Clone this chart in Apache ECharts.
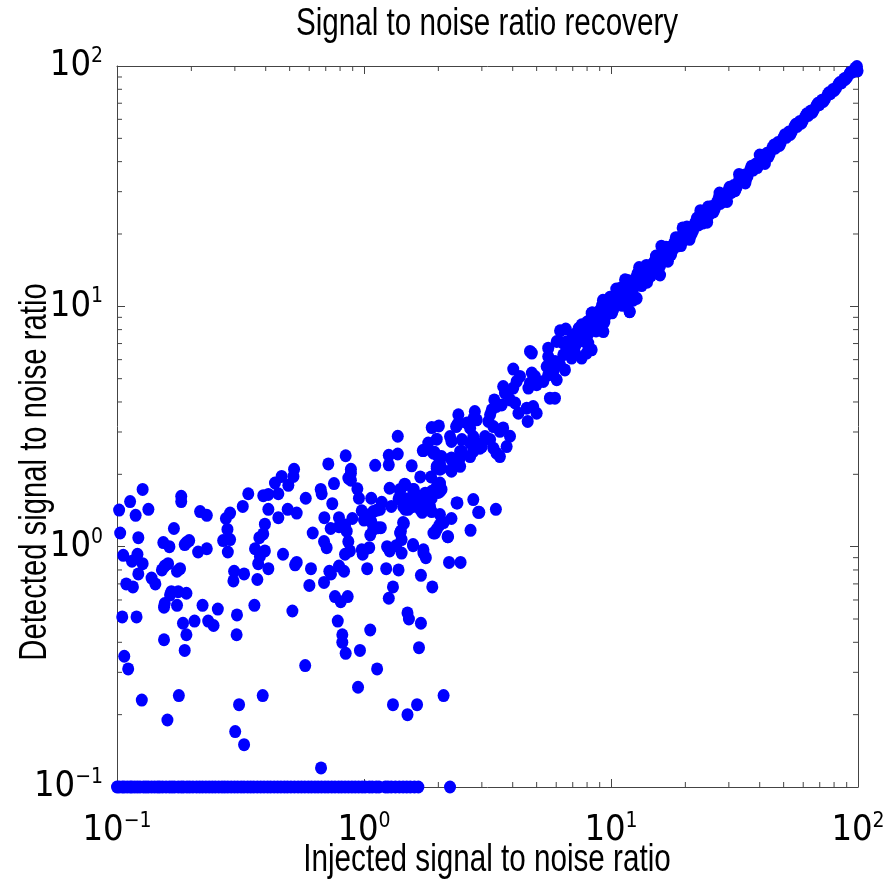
<!DOCTYPE html>
<html><head><meta charset="utf-8">
<script src="https://cdn.jsdelivr.net/npm/echarts@6/dist/echarts.min.js"></script>
<style>html,body{margin:0;padding:0;background:#fff}#c{width:890px;height:883px}</style>
</head><body><div id="c"></div>
<script>
const titleText = 'Signal to noise ratio recovery';
const xAxisName = 'Injected signal to noise ratio';
const yAxisName = 'Detected signal to noise ratio';
const axisMin = 0.1;
const axisMax = 100;
const minorDecades = [0.1, 1, 10];
const minorMultipliers = [2, 3, 4, 5, 6, 7, 8, 9];

// detections that fell to the floor value
const floorDetected = 0.1;
const floorInjected = [0.100,0.102,0.105,0.107,0.110,0.113,0.115,0.118,0.121,0.124,0.128,0.131,0.134,0.138,0.142,0.146,0.149,0.153,0.158,0.163,0.167,0.171,0.177,0.182,0.186,0.192,0.197,0.203,0.210,0.216,0.222,0.229,0.236,0.243,0.250,0.258,0.266,0.273,0.281,0.290,0.299,0.308,0.318,0.327,0.338,0.348,0.358,0.370,0.382,0.394,0.407,0.419,0.433,0.447,0.461,0.476,0.490,0.506,0.523,0.541,0.558,0.576,0.595,0.613,0.633,0.652,0.673,0.695,0.716,0.740,0.763,0.789,0.812,0.838,0.865,0.893,0.921,0.951,0.982,1.01,1.05,1.08,1.12,1.15,1.22,1.25,1.29,1.34,1.39,1.44,1.49,1.54,1.60,1.66,2.23];

// low-SNR noise cloud [injected, detected]
const cloudPoints = [[0.518,1.96],[0.464,1.96],[0.436,1.84],[0.494,1.80],[0.127,1.73],[0.340,1.66],[0.391,1.63],[0.410,1.65],[0.450,1.66],[0.113,1.54],[0.182,1.62],[0.182,1.54],[0.102,1.42],[0.134,1.43],[0.119,1.35],[0.217,1.40],[0.231,1.35],[0.287,1.38],[0.276,1.31],[0.323,1.47],[0.410,1.43],[0.491,1.43],[0.534,1.38],[0.450,1.32],[0.397,1.24],[0.103,1.14],[0.170,1.19],[0.280,1.18],[0.122,1.09],[0.391,1.13],[0.377,1.09],[0.154,1.04],[0.163,1.00],[0.188,1.02],[0.196,1.06],[0.191,1.04],[0.231,0.98],[0.213,0.95],[0.269,1.06],[0.287,1.07],[0.281,0.95],[0.362,0.98],[0.397,0.96],[0.379,0.91],[0.106,0.92],[0.121,0.93],[0.115,0.87],[0.127,0.85],[0.470,0.93],[0.534,0.86],[0.526,0.84],[0.373,0.85],[0.410,0.81],[0.152,0.80],[0.156,0.83],[0.161,0.85],[0.180,0.81],[0.175,0.79],[0.122,0.77],[0.138,0.74],[0.143,0.70],[0.298,0.79],[0.327,0.77],[0.296,0.72],[0.370,0.73],[0.109,0.70],[0.116,0.68],[0.166,0.65],[0.164,0.63],[0.177,0.65],[0.191,0.64],[0.156,0.58],[0.155,0.56],[0.175,0.57],[0.222,0.57],[0.256,0.55],[0.360,0.57],[0.105,0.51],[0.120,0.51],[0.513,0.54],[0.206,0.49],[0.185,0.48],[0.234,0.49],[0.246,0.47],[0.306,0.52],[0.191,0.43],[0.305,0.43],[0.155,0.41],
[0.188,0.37],[0.107,0.35],[0.111,0.31],[0.126,0.23],[0.178,0.24],[0.160,0.19],[0.312,0.22],[0.301,0.17],[0.327,0.15],[0.389,0.24],[0.578,0.32],[0.670,0.12],[0.783,0.49],[0.817,0.43],[0.817,0.40],[0.843,0.36],
[1.06,0.45],[0.963,0.37],[1.52,0.50],[1.70,0.48],[1.67,0.38],[1.13,0.31],[0.946,0.26],[1.31,0.22],[1.64,0.22],[1.50,0.20],[2.10,0.24],
[0.843,2.39],[0.717,2.21],[0.521,2.10],[0.885,2.10],[0.885,2.02],[0.864,1.93],[0.885,1.89],[1.11,2.18],[1.26,2.40],[1.26,2.19],[1.37,2.43],[1.56,2.17],[1.73,2.51],[1.93,2.47],[1.97,2.16],[2.03,2.10],[2.00,2.37],[2.26,2.34],[2.26,2.06],[2.45,2.16],[2.45,2.49],[2.77,2.49],[2.95,2.57],[0.756,1.83],[0.668,1.73],[0.674,1.66],[0.940,1.74],[0.954,1.59],[1.27,1.75],[1.40,1.73],[1.46,1.82],[1.69,1.95],[1.87,1.95],[1.59,1.73],[2.03,1.81],[2.06,1.73],[2.00,1.68],[1.88,1.70],[1.79,1.65],[0.581,1.59],[0.744,1.51],[1.07,1.59],[1.18,1.53],[1.16,1.43],[1.29,1.47],[1.38,1.58],[1.49,1.58],[1.54,1.50],[1.58,1.47],[1.47,1.43],[1.69,1.58],[1.71,1.47],[1.81,1.54],[1.88,1.59],[1.72,1.39],[2.39,1.52],[2.77,1.57],[0.691,1.32],[0.792,1.32],[0.792,1.21],[0.838,1.23],[0.897,1.31],[0.979,1.41],[1.01,1.36],[1.09,1.40],[1.13,1.42],[1.00,1.29],[1.07,1.27],[1.88,1.40],[2.03,1.36],[2.93,1.39],[3.42,1.43],[2.26,1.31],[2.10,1.26],[2.02,1.23],[1.94,1.14],[0.620,1.14],[0.733,1.19],[0.851,1.16],[0.864,1.05],[1.06,1.12],[1.14,1.20],[1.17,1.20],[1.09,1.18],[1.45,1.25],[1.41,1.16],[2.18,1.10],[2.70,1.17],[0.689,1.05],[0.706,0.99],[0.877,0.96],[0.838,0.93],[0.979,0.97],[1.05,0.99],[0.988,0.93],[1.24,1.00],[1.27,0.96],[1.35,1.01],[1.42,1.07],[1.42,0.94],[1.58,1.01],[1.74,0.94],[1.78,0.90],[0.610,0.81],[0.792,0.83],[0.830,0.79],[0.724,0.79],[0.735,0.77],[1.03,0.81],[1.23,0.81],[1.38,0.80],[1.70,0.76],[2.21,0.86],[2.46,0.86],[0.601,0.69],[0.689,0.71],[1.31,0.68],[1.89,0.68],[0.763,0.62],[0.805,0.59],[0.859,0.62],[1.26,0.61],[1.50,0.53],[1.37,2.88]];

// transition region where the detected value starts to follow the injected one
const bandLower = [[1.47,1.81],[1.40,1.70],[1.58,1.73],[1.69,1.62],[1.54,1.59],[1.44,1.47],[1.51,1.43],[1.77,1.67],[1.79,1.57],[1.74,1.52],[1.69,1.43],[1.85,1.47],[2.03,1.70],[2.37,1.52],[2.90,1.39],[1.97,1.18],[1.91,1.14],[2.19,1.10],[1.44,1.26],[1.40,1.14],[1.58,1.02],[1.74,0.97],[2.03,1.84],[1.97,1.78],[1.91,2.45],[2.06,2.37],[2.03,2.23],[1.97,2.12],[2.06,2.12],[1.97,2.80],[1.82,2.70],[1.74,2.51],[1.88,3.13],[2.01,3.18],[2.23,2.87],[2.26,2.74],[2.36,3.16],[2.41,3.27],[2.69,2.37],[2.49,2.49],[2.45,2.34],[2.26,2.30],[2.26,2.09],
[2.81,3.65],[2.77,3.40],[2.41,3.54],[2.39,3.22],[3.24,3.54],[3.55,3.02],[3.34,3.16],[3.19,3.32],[3.66,3.12],[3.90,2.88],[3.78,2.61],[3.44,2.45],[3.55,2.37],[2.86,3.37],[2.61,3.27],[2.69,3.11],[2.77,2.87],[2.86,2.70],[3.00,2.61],[2.69,2.70],[2.49,2.79],[3.09,2.87],[3.24,2.79],[3.34,2.57],[3.37,4.08],[3.29,3.71],[3.44,3.83],[3.61,3.89],[3.90,4.08],[4.09,3.96],[4.22,3.59],[4.56,3.77],[4.84,3.83],[5.00,3.59],[4.60,3.32],[3.66,4.64],[3.84,4.42],[3.72,4.36],[4.02,4.57],[4.63,4.57],[4.70,4.79],[5.66,4.15],[5.93,4.15],[4.28,5.11],[4.15,4.87],[4.78,5.28],[4.92,5.11],[5.00,4.72],[5.32,4.87],[5.57,5.19],[5.84,5.36],[4.02,5.48],[4.70,6.49],[4.78,6.39],[5.57,6.70],[5.57,6.18],[5.49,5.62],[5.93,5.90],[6.22,5.71],[6.51,5.44],[6.03,4.95],[6.22,7.91],[6.56,8.04],[7.61,8.38],[7.85,8.12],[8.35,9.37],[8.43,8.79],[9.31,7.85],[9.02,8.51],[11.9,9.51],[12.3,10.6],[10.2,9.67],[9.28,10.6],[7.03,7.49],[7.37,7.14],[8.09,7.03],[8.35,6.59],[7.97,6.39],[7.61,6.09],[7.15,6.39],[6.62,6.81],[6.41,7.03],[6.03,7.14],[6.41,6.29],[6.93,6.09]];

// high-SNR band, detected close to injected
const bandUpper = [[6.6,7.1],[6.8,6.5],[7.0,7.6],[7.2,6.9],[7.3,7.8],[7.5,7.2],[7.7,8.3],[7.8,7.4],[8.0,8.6],[8.1,7.7],[8.3,8.9],[8.5,8.2],[8.6,9.3],[8.8,8.5],[9.0,9.6],[9.1,8.8],[9.3,9.9],[9.5,9.1],[9.6,10.3],[9.8,9.6],[10.0,10.6],[10.2,9.8],[10.4,11.0],[10.6,10.3],[10.8,11.4],[11.0,10.6],[11.2,11.8],[11.4,11.0],[11.6,12.2],[11.9,11.5],[12.1,12.7],[12.4,12.0],[12.6,13.1],[12.9,12.4],[13.2,13.6],[13.5,12.9],[13.8,14.2],[14.1,13.5],[14.4,14.8],[14.7,14.1],[15.0,15.4],[15.4,14.9],[15.7,16.1],[16.1,15.5],[16.5,16.9],[16.9,16.2],[17.3,17.6],[17.7,17.0],[18.1,18.5],[18.5,17.8],[19.0,19.4],[19.5,18.7],[20.0,20.5],[20.5,19.8],[21.0,21.3],[21.5,20.7],[22.0,22.4],[22.6,21.8],[23.2,23.5],[23.8,22.9],[24.4,24.8],[25.0,24.1],[25.6,26.0],[26.3,25.4],[27.0,27.4],[27.7,26.8],[28.4,28.7],[29.1,28.2],[29.8,30.2],[30.6,29.7],[31.4,31.8],[32.2,31.2],[33.0,33.4],[33.9,33.0],[34.8,35.2],[35.7,34.8],[36.6,37.0],[37.6,36.9],[38.6,39.1],[39.6,38.8],[40.6,41.0],[41.7,40.9],[42.8,43.3],[43.9,43.1],[45.0,45.6],[46.2,45.5],[47.4,48.0],[48.6,47.8],[49.9,50.4],[51.2,50.5],[52.5,53.1],[53.9,53.2],[55.3,55.9],[56.7,56.0],[58.2,58.8],[59.7,59.1],[61.3,61.9],[62.9,62.3],[64.5,65.0],[66.2,65.6],[67.9,68.5],[69.7,69.0],[71.5,72.1],[73.4,72.8],[75.3,75.9],[77.3,76.7],[79.3,79.9],[81.4,80.8],[83.5,84.1],[85.7,85.1],[87.9,88.5],[90.2,89.6],[92.6,93.1],[95.0,94.4],[97.5,97.9],[99.0,99.5],[99.6,95.5],
[7.4,8.1],[7.9,7.1],[8.4,9.4],[8.7,7.9],[9.2,10.1],[9.4,8.6],[9.9,10.9],[10.1,9.4],[10.9,11.9],[11.1,10.1],[11.7,12.8],[12.2,11.2],[12.8,13.7],[13.3,12.2],[13.9,14.8],[14.5,13.4],[15.2,16.2],[15.8,14.7],[16.7,17.6],[17.5,16.4],[18.3,19.3],[19.2,17.9],[20.3,21.4],[21.2,20.0],[22.3,23.3],[23.5,22.2],[24.7,25.9],[26.0,24.7],[27.4,28.5],[28.8,27.4],[30.2,31.3],[31.8,30.3],[33.5,34.7],[35.2,33.8],[37.1,38.3],[39.1,37.8],[41.2,42.4],[43.4,42.0],[45.7,46.9],[48.1,46.7],[50.6,51.8],[53.2,51.9],[56.0,57.2],[59.0,57.8],[62.1,63.3],[65.3,64.1],[68.8,70.0],[72.4,71.2],[76.2,77.3],[80.2,79.1],[84.4,85.4],[88.8,87.9],[93.5,94.3],[98.0,97.1],
[10.5,11.8],[11.5,10.2],[13.0,14.5],[14.0,12.6],[16.0,17.8],[17.0,15.4],[19.5,21.2],[20.8,19.0],[23.0,25.0],[24.5,22.4],[27.5,29.6],[29.5,27.3],[33.0,35.4],[35.0,32.6],[40.0,42.6],[42.0,39.3],
[11.4,12.9],[11.9,9.5],[15.8,13.5],[12.7,10.8]];

const TICK_FONT = "'DejaVu Sans Condensed', 'Liberation Sans', sans-serif";
const TEXT_FONT = "'Liberation Sans', Arial, sans-serif";
const AXIS_COLOR = '#444';
const DOT = '#0000ff';

const minorTickValues = [];
minorDecades.forEach(d => minorMultipliers.forEach(m => minorTickValues.push(d * m)));

const pointData = []
  .concat(floorInjected.map(x => [x, floorDetected]))
  .concat(cloudPoints, bandLower, bandUpper);

function powLabel(v) {
  const e = Math.round(Math.log10(v));
  return '{b|10}{s|' + (e < 0 ? '\u2212' + (-e) : e) + '}';
}
const richLabel = {
  b: { fontSize: 36, fontFamily: TICK_FONT, color: '#000', lineHeight: 40 },
  s: { fontSize: 21, fontFamily: TICK_FONT, color: '#000', verticalAlign: 'top', lineHeight: 22 }
};

function mkAxis(pos, showLabel, isX) {
  return {
    type: 'log', logBase: 10, min: axisMin, max: axisMax, position: pos,
    axisLine: { show: true, onZero: false, lineStyle: { color: AXIS_COLOR, width: 1 } },
    axisTick: { show: true, inside: true, length: 8, lineStyle: { color: AXIS_COLOR } },
    splitLine: { show: false },
    minorTick: { show: false },
    axisLabel: showLabel ? { show: true, formatter: powLabel, rich: richLabel, margin: isX ? 24 : 14 } : { show: false }
  };
}

const chart = echarts.init(document.getElementById('c'), null, { renderer: 'canvas' });
chart.setOption({
  animation: false,
  backgroundColor: '#fff',
  grid: { left: 117, right: 32, top: 66, bottom: 96, containLabel: false, outerBoundsMode: 'none' },
  xAxis: [mkAxis('bottom', true, true), mkAxis('top', false, true)],
  yAxis: [mkAxis('left', true, false), mkAxis('right', false, false)],
  graphic: [
    { type: 'text', x: 487, y: 25, scaleX: 0.78, silent: true,
      style: { text: titleText, font: '38px ' + TEXT_FONT, fill: '#000', align: 'center', verticalAlign: 'middle' } },
    { type: 'text', x: 487, y: 861, scaleX: 0.78, silent: true,
      style: { text: xAxisName, font: '38px ' + TEXT_FONT, fill: '#000', align: 'center', verticalAlign: 'middle' } },
    { type: 'text', x: 36, y: 472, scaleX: 0.77, rotation: Math.PI / 2, silent: true,
      style: { text: yAxisName, font: '38px ' + TEXT_FONT, fill: '#000', align: 'center', verticalAlign: 'middle' } }
  ],
  series: [
    {
      type: 'custom', xAxisIndex: 0, yAxisIndex: 0, silent: true, clip: false, z: 1,
      data: minorTickValues.map(v => [v, v]),
      renderItem: function (params, api) {
        const v = api.value(0);
        const L = 5;
        const b = api.coord([v, axisMin]);
        const t = api.coord([v, axisMax]);
        const l = api.coord([axisMin, v]);
        const r = api.coord([axisMax, v]);
        const st = { stroke: AXIS_COLOR, lineWidth: 1 };
        return { type: 'group', children: [
          { type: 'line', shape: { x1: b[0], y1: b[1], x2: b[0], y2: b[1] - L }, style: st },
          { type: 'line', shape: { x1: t[0], y1: t[1], x2: t[0], y2: t[1] + L }, style: st },
          { type: 'line', shape: { x1: l[0], y1: l[1], x2: l[0] + L, y2: l[1] }, style: st },
          { type: 'line', shape: { x1: r[0], y1: r[1], x2: r[0] - L, y2: r[1] }, style: st }
        ]};
      }
    },
    {
      type: 'scatter', xAxisIndex: 0, yAxisIndex: 0, clip: false, z: 3,
      symbol: 'circle', symbolSize: [12, 13],
      itemStyle: { color: DOT, opacity: 1 },
      data: pointData
    }
  ]
});
</script></body></html>
